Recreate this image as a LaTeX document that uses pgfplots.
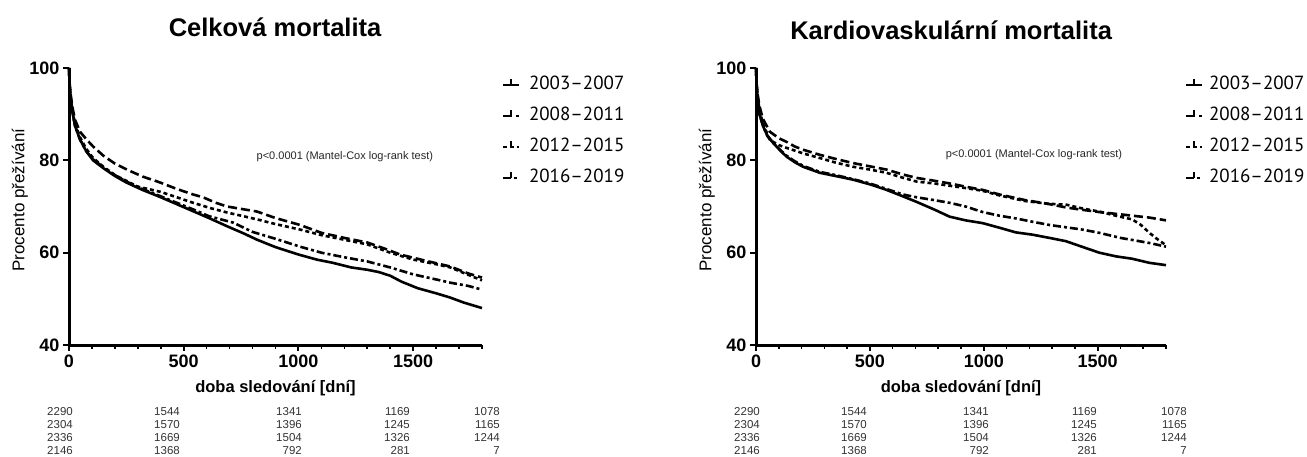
\documentclass[border=0pt]{standalone}
\usepackage{fontspec}
\setmainfont{Liberation Sans}
\newfontfamily\legfont{PT Sans}
\usepackage{pgfplots}
\pgfplotsset{compat=1.18}

\pgfplotsset{
  kmaxis/.style={
    scale only axis, height=277pt,
    xmin=0, xmax=1800, ymin=40, ymax=100,
    axis x line*=bottom, axis y line*=left,
    axis line style={-, line width=3pt, black},
    tick align=outside,
    xtick={0,500,1000,1500},
    minor xtick={100,200,300,400,600,700,800,900,1100,1200,1300,1400,1600,1700,1800},
    ytick={40,60,80,100},
    major tick length=6pt, minor tick length=3.5pt,
    tick style={line width=2pt, black},
    minor tick style={line width=1.6pt, black},
    /pgf/number format/assume math mode=true,
    /pgf/number format/1000 sep={},
    ticklabel style={font=\bfseries\fontsize{18}{20}\selectfont},
    xlabel style={font=\bfseries\fontsize{16.5}{18}\selectfont, at={(axis description cs:0.5,0)}, anchor=center, yshift=-43pt},
    ylabel style={font=\fontsize{17}{19}\selectfont, anchor=center},
    title style={font=\bfseries\fontsize{25.5}{27}\selectfont, anchor=center},
    xlabel={doba sledování [dní]},
    ylabel={Procento přežívání},
    clip=false,
    legend cell align=left,
    legend style={draw=none, fill=none, font=\legfont\fontsize{19}{21}\selectfont,
      anchor=north west, inner sep=0pt,
      nodes={inner sep=0pt, text height=14pt, text depth=4pt},
      row sep=13pt},
    legend image code/.code={
      \draw[##1, line width=2pt] (0pt,-1pt) -- (16pt,-1pt);
      \draw[##1, solid, line width=2pt] (8pt,-1pt) -- (8pt,5pt);
    },
  },
  sA/.style={black, line width=2.6pt, solid},
  sB/.style={black, line width=2.6pt, dash pattern=on 9pt off 4pt},
  sC/.style={black, line width=2.6pt, dash pattern=on 4pt off 3pt},
  sD/.style={black, line width=2.6pt, dash pattern=on 8pt off 3pt on 3pt off 3pt},
}

\begin{document}
\begin{tikzpicture}
\useasboundingbox (0,0) rectangle (1307pt,456pt);

% ---------------- left: Celkova mortalita ----------------
\begin{axis}[kmaxis, width=413pt, at={(69pt,111pt)}, anchor=south west,
  title={Celková mortalita},
  title style={at={(axis description cs:0.499,1)}, yshift=35pt},
  ylabel style={at={(axis description cs:-0.119,0.523)}},
  legend style={at={(axis description cs:1.048,0.975)}, column sep=9pt}]
\addplot[sA] coordinates {(0,100)(3,96)(8,93)(15,90.5)(26,87.5)(48,84.5)(75,82)(105,80)(150,78.3)(200,76.6)(250,75.2)(320,73.6)(400,72)(470,70.5)(540,69)(610,67.5)(690,65.7)(760,64.2)(820,62.8)(900,61.2)(1000,59.6)(1080,58.5)(1150,57.8)(1230,56.8)(1300,56.3)(1350,55.8)(1400,55)(1450,53.7)(1520,52.3)(1600,51.2)(1660,50.3)(1720,49.2)(1800,48)};
\addlegendentry{2003–2007}
\addplot[sB] coordinates {(0,100)(3,96.5)(8,94)(15,91.5)(26,88.8)(48,86.2)(75,84.6)(105,83)(150,81)(200,79.3)(252,78)(320,76.5)(397,75.2)(470,73.8)(541,72.6)(584,72)(640,70.8)(689,70)(760,69.4)(820,68.9)(900,67.5)(1007,66)(1100,64.3)(1200,63.2)(1300,62.2)(1380,60.8)(1443,59.6)(1550,58.3)(1662,57)(1740,55.5)(1800,54.6)};
\addlegendentry{2008–2011}
\addplot[sC] coordinates {(0,100)(3,96)(8,93.3)(15,90.8)(26,88)(48,85)(75,82.5)(105,80.5)(150,78.6)(200,76.8)(300,74.3)(397,73.2)(470,72)(541,70.8)(620,69.6)(689,68.7)(760,67.9)(820,67.2)(900,66.2)(1007,65)(1100,63.8)(1200,62.8)(1300,61.8)(1400,60)(1500,58.5)(1600,57.5)(1662,56.8)(1740,55.2)(1800,54)};
\addlegendentry{2012–2015}
\addplot[sD] coordinates {(0,100)(3,96)(8,93)(15,90.5)(26,87.5)(48,84.5)(75,82)(105,80.2)(150,78.5)(200,76.8)(250,75.4)(320,73.8)(400,72.2)(470,70.8)(540,69.4)(610,67.9)(716,66.5)(800,64.5)(900,63)(1007,61.3)(1100,60)(1200,59)(1300,58.1)(1400,56.8)(1500,55.3)(1600,54.2)(1662,53.5)(1740,52.8)(1800,52)};
\addlegendentry{2016–2019}
\node[font=\fontsize{11}{12}\selectfont, text=black!85] at (axis description cs:0.668,0.679) {p<0.0001 (Mantel-Cox log-rank test)};
\end{axis}

% ---------------- right: Kardiovaskularni mortalita ----------------
\begin{axis}[kmaxis, width=410pt, at={(756pt,111pt)}, anchor=south west,
  title={Kardiovaskulární mortalita},
  title style={at={(axis description cs:0.476,1)}, yshift=32pt},
  ylabel style={at={(axis description cs:-0.12,0.523)}},
  legend style={at={(axis description cs:1.046,0.975)}, column sep=6pt}]
\addplot[sA] coordinates {(0,100)(3,96)(8,92.5)(15,90)(32,87.3)(50,85.3)(75,83.8)(105,82.2)(134,80.8)(170,79.6)(207,78.6)(280,77.3)(350,76.6)(427,75.8)(500,74.8)(573,73.6)(645,72.2)(705,71)(780,69.4)(850,67.8)(920,67)(995,66.4)(1069,65.4)(1140,64.4)(1214,63.9)(1288,63.2)(1360,62.5)(1430,61.3)(1507,60)(1580,59.2)(1650,58.7)(1727,57.8)(1800,57.3)};
\addlegendentry{2003–2007}
\addplot[sB] coordinates {(0,100)(3,96.5)(8,94)(15,91.8)(30,89)(61,86.2)(100,84.8)(134,84)(170,83)(207,82.3)(280,81.2)(350,80.3)(427,79.4)(500,78.7)(573,78)(640,77)(705,76.2)(780,75.6)(850,75)(920,74.3)(995,73.6)(1069,72.6)(1180,71.4)(1280,70.6)(1360,69.8)(1430,69.3)(1507,68.8)(1600,68.3)(1727,67.6)(1800,67)};
\addlegendentry{2008–2011}
\addplot[sC] coordinates {(0,100)(3,96)(8,93.5)(15,91)(30,88)(61,84.4)(100,83.3)(134,82.7)(207,81.5)(280,80.5)(350,79.5)(427,78.6)(500,78)(573,77.3)(640,76.3)(705,75.4)(780,75)(850,74.5)(920,74)(995,73.4)(1069,72.4)(1180,71.2)(1280,70.6)(1362,70.4)(1430,69.6)(1507,68.9)(1580,68)(1652,67.2)(1690,66)(1727,64.3)(1760,63)(1800,61.6)};
\addlegendentry{2012–2015}
\addplot[sD] coordinates {(0,100)(3,96)(8,92.5)(15,90)(32,87.3)(50,85.3)(75,83.8)(105,82.3)(134,81)(170,79.8)(207,78.8)(280,77.5)(350,76.8)(427,75.9)(500,75)(573,73.8)(645,72.6)(705,72)(780,71.4)(850,70.8)(920,70)(995,68.8)(1069,68)(1143,67.4)(1214,66.7)(1288,66)(1360,65.5)(1433,65)(1507,64.3)(1600,63.2)(1727,62.1)(1800,61.3)};
\addlegendentry{2016–2019}
\node[font=\fontsize{11}{12}\selectfont, text=black!85] at (axis description cs:0.678,0.686) {p<0.0001 (Mantel-Cox log-rank test)};
\end{axis}

% ---------------- numbers at risk ----------------
\begin{scope}[every node/.style={font=\fontsize{11.5}{12}\selectfont, text=black!80, anchor=base east, inner sep=0pt}]
\foreach \xo in {0,687}{
  \foreach \col/\a/\b/\c/\d in {73/2290/2304/2336/2146, 180/1544/1570/1669/1368, 302/1341/1396/1504/792, 410/1169/1245/1326/281, 500/1078/1165/1244/7}{
    \node at ({(\col+\xo)*1pt},40.5pt) {\a};
    \node at ({(\col+\xo)*1pt},27.5pt) {\b};
    \node at ({(\col+\xo)*1pt},14.5pt) {\c};
    \node at ({(\col+\xo)*1pt},1.5pt) {\d};
  }
}
\end{scope}
\end{tikzpicture}
\end{document}
